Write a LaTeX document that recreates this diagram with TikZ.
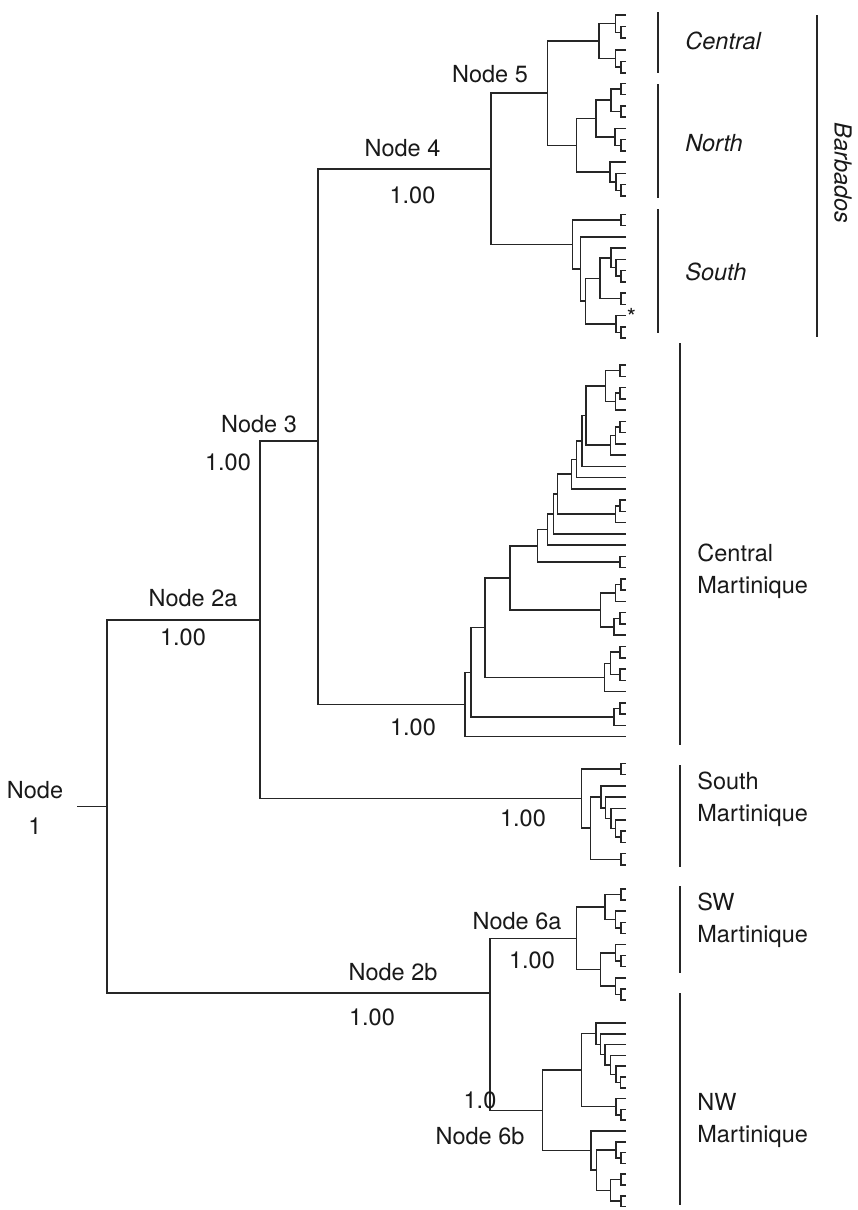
\documentclass[tikz,border=0pt]{standalone}
\usepackage{fontspec}
\setmainfont{TeX Gyre Heros}
\usetikzlibrary{calc}

\tikzset{
  branch/.style={line width=0.75pt, draw=black!85},
  bar/.style={line width=1.1pt, draw=black!85},
  lbl/.style={inner sep=0pt, font=\fontsize{11.75}{16}\selectfont, text=black!90},
  grp/.style={lbl, font=\fontsize{11.75}{16}\selectfont\itshape, anchor=west},
  isl/.style={lbl, align=left, anchor=west}
}

% elbow clade: name, x, upper child, lower child
\newcommand{\clade}[4]{%
  \path (#3) -- (#4) coordinate[midway] (#1m);
  \coordinate (#1) at (#2,0 |- #1m);
  \draw[branch] (#3) -| (#1) |- (#4);
}
% same, with the joint put at a given y
\newcommand{\cladeat}[5]{%
  \coordinate (#1) at (#2,#3);
  \draw[branch] (#4) -| (#1) |- (#5);
}

\begin{document}
\begin{tikzpicture}[x=0.5pt, y=-0.5pt]
\useasboundingbox (0,0) rectangle (857,1210);

% tips
\foreach \k in {0,...,5} \coordinate (c\k) at (626,{15+11.6*\k});
\foreach \k in {0,...,10} \coordinate (n\k) at (626,{83.3+11.27*\k});
\foreach \k in {0,...,11} \coordinate (s\k) at (626,{214.3+11.25*\k});
\foreach \k in {0,...,33} \coordinate (m\k) at (626,{365+11.26*\k});
\foreach \k in {0,...,9} \coordinate (p\k) at (626,{763.3+11.3*\k});
\foreach \k in {0,...,10} \coordinate (w\k) at (626,{889+11.1*\k});
\foreach \k in {0,...,17} \coordinate (v\k) at (626,{1023+10.8*\k});

% Barbados, central
\clade{cbf1}{621}{c1}{c2}
\clade{cbP}{615.7}{c0}{cbf1}
\clade{cbf2}{621}{c4}{c5}
\clade{cbQ}{615.7}{c3}{cbf2}
\clade{cb}{599}{cbP}{cbQ}

% Barbados, north
\clade{nf1}{621}{n0}{n1}
\clade{nf2}{621}{n2}{n3}
\clade{nR}{611}{nf1}{nf2}
\clade{nf3}{621}{n5}{n6}
\clade{nS}{615}{n4}{nf3}
\clade{nRS}{596}{nR}{nS}
\clade{nf4}{621}{n9}{n10}
\clade{nT2}{616}{n8}{nf4}
\clade{nT}{610}{n7}{nT2}
\clade{nb}{576.7}{nRS}{nT}

\clade{node5}{547.7}{cb}{nb}

% Barbados, south
\clade{sf1}{621}{s0}{s1}
\clade{sf2}{621}{s5}{s6}
\clade{sJ2}{616}{s4}{sf2}
\clade{sJ1}{611}{s3}{sJ2}
\clade{sf3}{621}{s7}{s8}
\clade{sJ}{600}{sJ1}{sf3}
\clade{sf4}{621}{s10}{s11}
\clade{sK}{616}{s9}{sf4}
\clade{sI}{585.7}{sJ}{sK}
\clade{sH}{580.7}{s2}{sI}
\clade{sb}{572.3}{sf1}{sH}

\clade{node4}{491}{node5}{sb}

% Central Martinique
\clade{mf1}{620}{m0}{m1}
\clade{mf2}{620}{m2}{m3}
\clade{mC2}{615.7}{mf2}{m4}
\clade{mC1}{605.7}{mf1}{mC2}
\clade{mf3}{620}{m5}{m6}
\clade{mC3}{615.7}{mf3}{m7}
\clade{mC4}{610.3}{mC3}{m8}
\clade{mC5}{586}{mC1}{mC4}
\clade{mC6}{582}{mC5}{m9}
\clade{mC7}{576.7}{mC6}{m10}
\clade{mC8}{571.7}{mC7}{m11}
\clade{mf4}{620}{m12}{m13}
\clade{mC9}{615.7}{mf4}{m14}
\clade{mC10}{557.3}{mC8}{mC9}
\clade{mC11}{553.3}{mC10}{m15}
\clade{mC12}{547.3}{mC11}{m16}
\clade{mf5}{620}{m17}{m18}
\clade{mC13}{537.7}{mC12}{mf5}
\clade{mf6}{621}{m19}{m20}
\clade{mC14a}{615.7}{mf6}{m21}
\clade{mf7}{620}{m22}{m23}
\clade{mC14b}{614}{mf7}{m24}
\clade{mC14}{600.3}{mC14a}{mC14b}
\clade{mC15}{510}{mC13}{mC14}
\clade{mf8}{620}{m25}{m26}
\clade{mf9}{620}{m27}{m28}
\clade{mC16a}{610.7}{mf8}{mf9}
\clade{mC16}{604.3}{mC16a}{m29}
\clade{mC17}{485}{mC15}{mC16}
\clade{mf10}{620}{m30}{m31}
\clade{mC18}{614}{mf10}{m32}
\clade{mC19}{471}{mC17}{mC18}
\clade{cm}{465}{mC19}{m33}

\cladeat{node3}{318}{441}{node4}{cm}

% South Martinique
\clade{pf1}{621}{p0}{p1}
\clade{pf2}{621}{p6}{p7}
\clade{pL4}{615.7}{p5}{pf2}
\clade{pL3}{611}{p4}{pL4}
\clade{pL2}{605.7}{p3}{pL3}
\clade{pL}{601}{p2}{pL2}
\clade{pf3}{621}{p8}{p9}
\clade{pX}{590.7}{pL}{pf3}
\clade{sm}{581.7}{pf1}{pX}

\clade{node2a}{260}{node3}{sm}

% SW Martinique
\clade{wf1}{621}{w0}{w1}
\clade{wf2}{621}{w3}{w4}
\clade{wV}{615.7}{w2}{wf2}
\clade{wU}{605}{wf1}{wV}
\clade{wf3}{621}{w6}{w7}
\clade{wX}{615.7}{w5}{wf3}
\clade{wf4}{621}{w9}{w10}
\clade{wY}{615.7}{w8}{wf4}
\clade{wW}{600.3}{wX}{wY}
\clade{node6a}{576.7}{wU}{wW}

% NW Martinique
\clade{vf1}{620.7}{v5}{v6}
\clade{vA5}{616}{v4}{vf1}
\clade{vA4}{610.7}{v3}{vA5}
\clade{vA3}{605}{v2}{vA4}
\clade{vA2}{600.7}{v1}{vA3}
\clade{vA}{596}{v0}{vA2}
\clade{vf2}{621}{v8}{v9}
\clade{vB}{616}{v7}{vf2}
\clade{vAB}{581.7}{vA}{vB}
\clade{vf3}{621}{v12}{v13}
\clade{vE}{616}{v11}{vf3}
\clade{vf4}{621}{v14}{v15}
\clade{vf5}{621}{v16}{v17}
\clade{vF}{610.7}{vf4}{vf5}
\clade{vD}{596.7}{vE}{vF}
\clade{vC}{591}{v10}{vD}
\clade{node6b}{542.7}{vAB}{vC}

\cladeat{node2b}{490}{993}{node6a}{node6b}
\clade{node1}{107}{node2a}{node2b}
\coordinate (root) at (77,0 |- node1);
\draw[branch] (root) -- (node1);

% Node labels
\node[lbl] (l5) at (490,74) {Node 5};
\node[lbl] (l4) at (402.5,148.5) {Node 4};
\node[lbl] (p4) at (412.5,195) {1.00};
\node[lbl] (l3) at (259,424) {Node 3};
\node[lbl] (p3) at (228,462) {1.00};
\node[lbl] (l2a) at (193,598) {Node 2a};
\node[lbl] (p2a) at (183,637) {1.00};
\node[lbl] (pcm) at (413,727) {1.00};
\node[lbl, align=center, font=\fontsize{11.75}{18}\selectfont] (l1) at (35,808) {Node\\1};
\node[lbl] (psm) at (523,818) {1.00};
\node[lbl] (l6a) at (517,921) {Node 6a};
\node[lbl] (p6a) at (532,960) {1.00};
\node[lbl] (l2b) at (393,972) {Node 2b};
\node[lbl] (p2b) at (372,1017) {1.00};
\node[lbl] (p6b) at (480,1100) {1.0};
\node[lbl] (l6b) at (480,1136) {Node 6b};
\node[lbl] (star) at (631.5,317) {*};

% Barbados groups
\draw[bar] (658.3,12) -- (658.3,73);
\draw[bar] (658.3,84) -- (658.3,198);
\draw[bar] (658.3,209) -- (658.3,333);
\draw[bar] (816.7,15) -- (816.7,337);
\node[grp] (gc) at (685,41) {Central};
\node[grp] (gn) at (685,143) {North};
\node[grp] (gs) at (685,272) {South};
\node[lbl, font=\fontsize{11.75}{16}\selectfont\itshape, rotate=-90] (gb) at (843,173) {Barbados};

% Martinique groups
\draw[bar] (680,343) -- (680,745);
\draw[bar] (680,765) -- (680,867);
\draw[bar] (680,886) -- (680,973);
\draw[bar] (680,993) -- (680,1205);
\node[isl] (gcm) at (697,571) {Central\\Martinique};
\node[isl] (gsm) at (697,799) {South\\Martinique};
\node[isl] (gsw) at (697,920) {SW\\Martinique};
\node[isl] (gnw) at (697,1120) {NW\\Martinique};

\end{tikzpicture}
\end{document}
